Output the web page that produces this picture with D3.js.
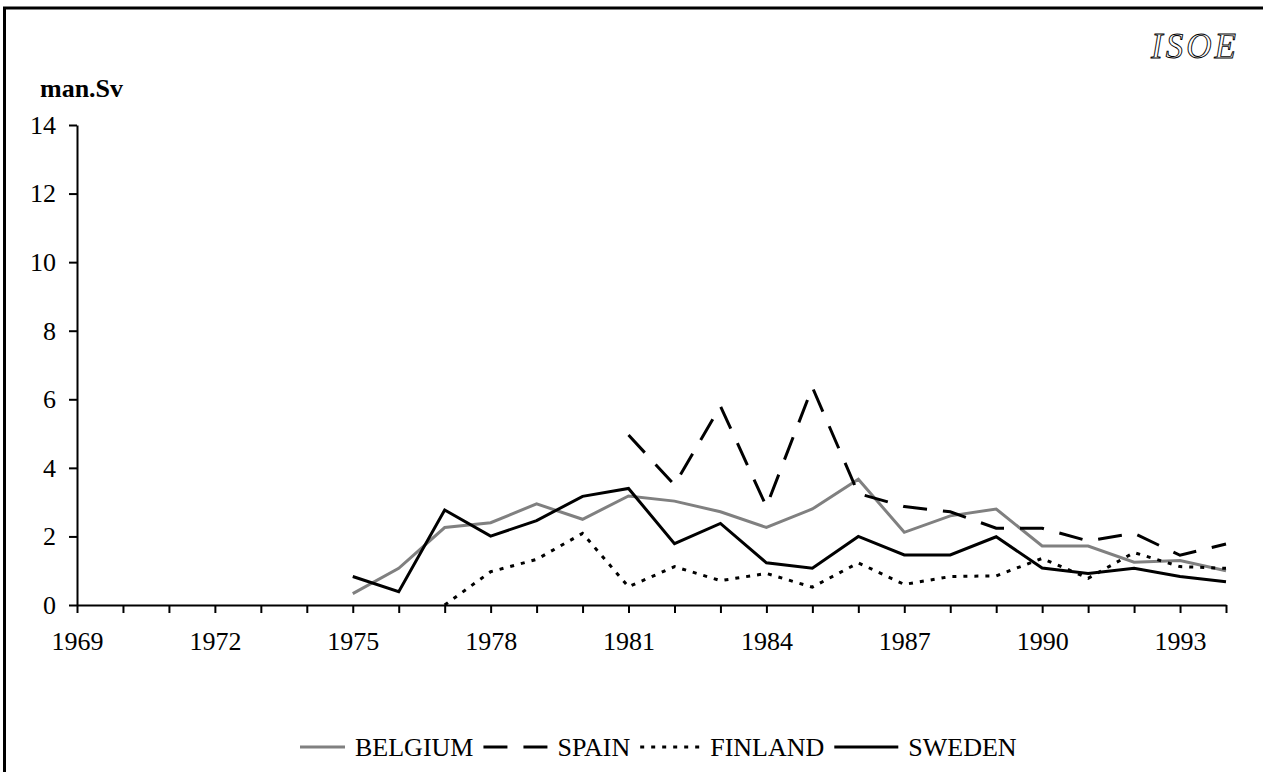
<!DOCTYPE html>
<html>
<head>
<meta charset="utf-8">
<script src="https://cdn.jsdelivr.net/npm/d3@7"></script>
<style>
  html, body { margin: 0; padding: 0; background: #fff; }
  svg { display: block; }
  text { font-family: "Liberation Serif", "Times New Roman", serif; }
</style>
</head>
<body>
<svg id="chart" width="1263" height="772"></svg>
<script>
// ---- data ----
const years = d3.range(1969, 1995);
const tickLabelYears = [1969, 1972, 1975, 1978, 1981, 1984, 1987, 1990, 1993];
const yTicks = [0, 2, 4, 6, 8, 10, 12, 14];
const seriesNames = ["BELGIUM", "SPAIN", "FINLAND", "SWEDEN"];

const belgiumStart = 1975;
const belgium = [0.33, 1.07, 2.26, 2.40, 2.95, 2.50, 3.18, 3.03, 2.72, 2.26, 2.80, 3.67, 2.12, 2.60, 2.80, 1.72, 1.72, 1.25, 1.30, 1.00];
const spainStart = 1981;
const spain = [4.96, 3.50, 5.80, 2.87, 6.35, 3.25, 2.87, 2.72, 2.24, 2.24, 1.87, 2.09, 1.45, 1.78];
const finlandStart = 1977;
const finland = [0.00, 0.97, 1.33, 2.09, 0.53, 1.12, 0.71, 0.92, 0.52, 1.23, 0.60, 0.83, 0.85, 1.36, 0.78, 1.53, 1.12, 1.07];
const swedenStart = 1975;
const sweden = [0.83, 0.39, 2.77, 2.01, 2.46, 3.17, 3.40, 1.79, 2.38, 1.23, 1.07, 2.00, 1.46, 1.46, 1.99, 1.08, 0.92, 1.07, 0.83, 0.68];

// ---- build ----
function toPoints(start, vals) { return vals.map((v, i) => ({ year: start + i, value: v })); }
const styles = {
  BELGIUM: { stroke: "#808080", dash: null, width: 3 },
  SPAIN:   { stroke: "#000", dash: "24,16", width: 3 },
  FINLAND: { stroke: "#000", dash: "4,7", width: 3 },
  SWEDEN:  { stroke: "#000", dash: null, width: 3 }
};
const series = [
  { name: "BELGIUM", points: toPoints(belgiumStart, belgium) },
  { name: "SPAIN", points: toPoints(spainStart, spain) },
  { name: "FINLAND", points: toPoints(finlandStart, finland) },
  { name: "SWEDEN", points: toPoints(swedenStart, sweden) }
];

const svg = d3.select("#chart");
const FONT = 26;

// frame
svg.append("path").attr("d", "M4.5,772 L4.5,8 L1263,8")
  .attr("fill", "none").attr("stroke", "#000").attr("stroke-width", 3);

const x = d3.scaleLinear().domain([1969, 1994]).range([77, 1226]);
const y = d3.scaleLinear().domain([0, 14]).range([605, 125]);

// axes
const xAxis = d3.axisBottom(x).tickValues(years).tickSize(8).tickSizeOuter(0).tickPadding(19)
  .tickFormat(d => tickLabelYears.includes(d) ? String(d) : "");
const gx = svg.append("g").attr("transform", "translate(0,605)").call(xAxis);
const yAxis = d3.axisLeft(y).tickValues(yTicks).tickSize(8).tickSizeOuter(0).tickPadding(13);
const gy = svg.append("g").attr("transform", "translate(77,0)").call(yAxis);
[gx, gy].forEach(g => {
  g.selectAll("path, line").attr("stroke", "#000").attr("stroke-width", 2);
  g.selectAll("text").attr("font-size", FONT).attr("fill", "#000")
    .attr("font-family", "'Liberation Serif', 'Times New Roman', serif");
});

// y label
svg.append("text").attr("x", 40).attr("y", 97).attr("font-size", FONT).attr("font-weight", "bold")
  .text("man.Sv");

// ISOE watermark
svg.append("text").attr("x", 1151).attr("y", 58).attr("font-size", 35).attr("font-style", "italic")
  .attr("letter-spacing", 3).attr("fill", "#fff").attr("stroke", "#000").attr("stroke-width", 0.9)
  .text("ISOE");

// lines
const line = d3.line().x(d => x(d.year)).y(d => y(d.value));
series.forEach(s => {
  const st = styles[s.name];
  svg.append("path").datum(s.points).attr("d", line)
    .attr("fill", "none").attr("stroke", st.stroke).attr("stroke-width", st.width)
    .attr("stroke-dasharray", st.dash).attr("stroke-linejoin", "miter");
});

// legend
const legendY = 747;
const lineLens = { BELGIUM: 45, SPAIN: 64, FINLAND: 60, SWEDEN: 64 };
let cx = 300;
const lg = svg.append("g");
series.forEach(s => {
  const st = styles[s.name];
  lg.append("line").attr("x1", cx).attr("x2", cx + lineLens[s.name]).attr("y1", legendY).attr("y2", legendY)
    .attr("stroke", st.stroke).attr("stroke-width", st.width).attr("stroke-dasharray", st.dash);
  cx += lineLens[s.name] + 10;
  const t = lg.append("text").attr("x", cx).attr("y", legendY + 9).attr("font-size", FONT).text(s.name);
  cx += t.node().getComputedTextLength() + 10;
});
</script>
</body>
</html>
